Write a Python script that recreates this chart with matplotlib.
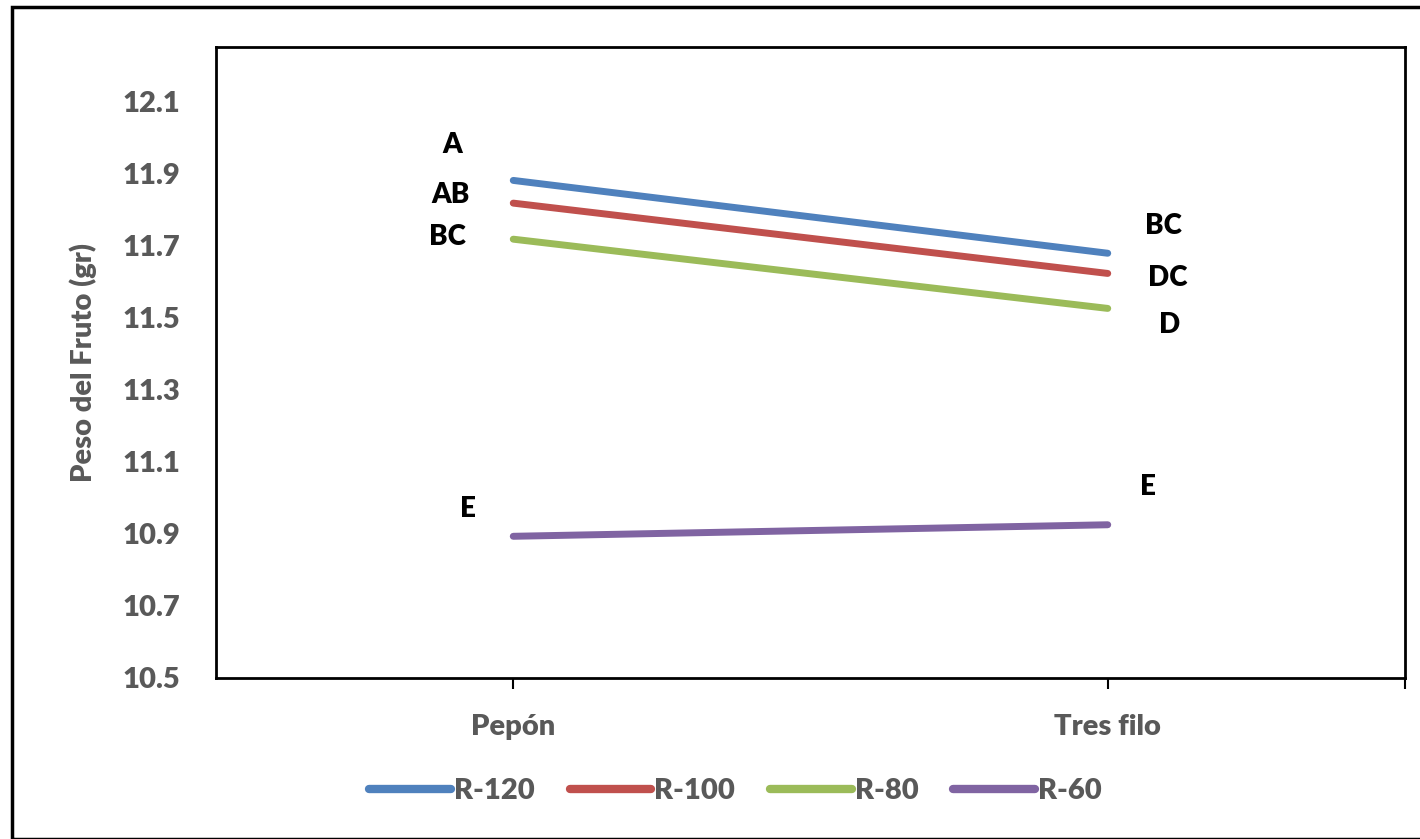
import matplotlib.pyplot as plt
from matplotlib.patches import Rectangle

plt.rcParams['font.family'] = ['Lato', 'DejaVu Sans']

categories = ["Pepón", "Tres filo"]
series_names = ["R-120", "R-100", "R-80", "R-60"]
r120 = [11.88, 11.678]
r100 = [11.817, 11.622]
r80 = [11.717, 11.525]
r60 = [10.893, 10.925]
letters_pepon = ["A", "AB", "BC", "E"]
letters_tres = ["BC", "DC", "D", "E"]
yticks = [10.5, 10.7, 10.9, 11.1, 11.3, 11.5, 11.7, 11.9, 12.1]

colors = ["#4f81bd", "#c0504d", "#9bbb59", "#8064a2"]
grey = "#595959"
wt = "heavy"

fig = plt.figure(figsize=(14.2, 8.39), dpi=100)
ax = fig.add_axes([216 / 1420, 1 - 678 / 839, (1405 - 216) / 1420, (678 - 47) / 839])

x = list(range(len(categories)))
for vals, name, c in zip([r120, r100, r80, r60], series_names, colors):
    ax.plot(x, vals, color=c, lw=5, solid_capstyle="round", label=name)

# significance letters
offs_pepon = [(-61, 35), (-63, 8), (-66, 2), (-45, 27)]
offs_tres = [(56, 27), (60, -5), (62, -17), (40, 38)]
for i, vals in enumerate([r120, r100, r80, r60]):
    dx, dy = offs_pepon[i]
    ax.annotate(letters_pepon[i], (0, vals[0]), xytext=(dx, dy), textcoords="offset pixels",
                ha="center", va="center", fontsize=20, fontweight=wt, color="black")
    dx, dy = offs_tres[i]
    ax.annotate(letters_tres[i], (1, vals[1]), xytext=(dx, dy), textcoords="offset pixels",
                ha="center", va="center", fontsize=20, fontweight=wt, color="black")

ax.set_xlim(-0.5, 1.5)
ax.set_ylim(10.5, 12.25)
ax.set_yticks(yticks)
ax.set_yticklabels([f"{v:.1f}" for v in yticks])
ax.set_xticks([0, 1, 1.5])
ax.set_xticklabels(categories + [""])
ax.tick_params(axis="y", length=0, pad=26, labelsize=21, labelcolor=grey)
ax.tick_params(axis="x", length=8, width=1.5, direction="out", pad=18, labelsize=21, labelcolor=grey)
for lab in ax.get_xticklabels() + ax.get_yticklabels():
    lab.set_fontweight(wt)
for s in ax.spines.values():
    s.set_linewidth(2)
    s.set_color("black")

ax.set_ylabel("Peso del Fruto (gr)", fontsize=21, fontweight=wt, color=grey, labelpad=18)

leg = fig.legend(loc="center", bbox_to_anchor=(0.518, 1 - 791 / 839), ncol=4, frameon=False,
                 fontsize=21, handlelength=2.8, columnspacing=1.2, handletextpad=0.1)
for h in leg.legend_handles:
    h.set_linewidth(6)
for t in leg.get_texts():
    t.set_color(grey)
    t.set_fontweight(wt)

fig.patches.append(Rectangle((12 / 1420, 0.0), 1.2, 1 - 7 / 839, transform=fig.transFigure,
                             fill=False, edgecolor="black", lw=2.5))

fig.savefig("out.png", dpi=100)
